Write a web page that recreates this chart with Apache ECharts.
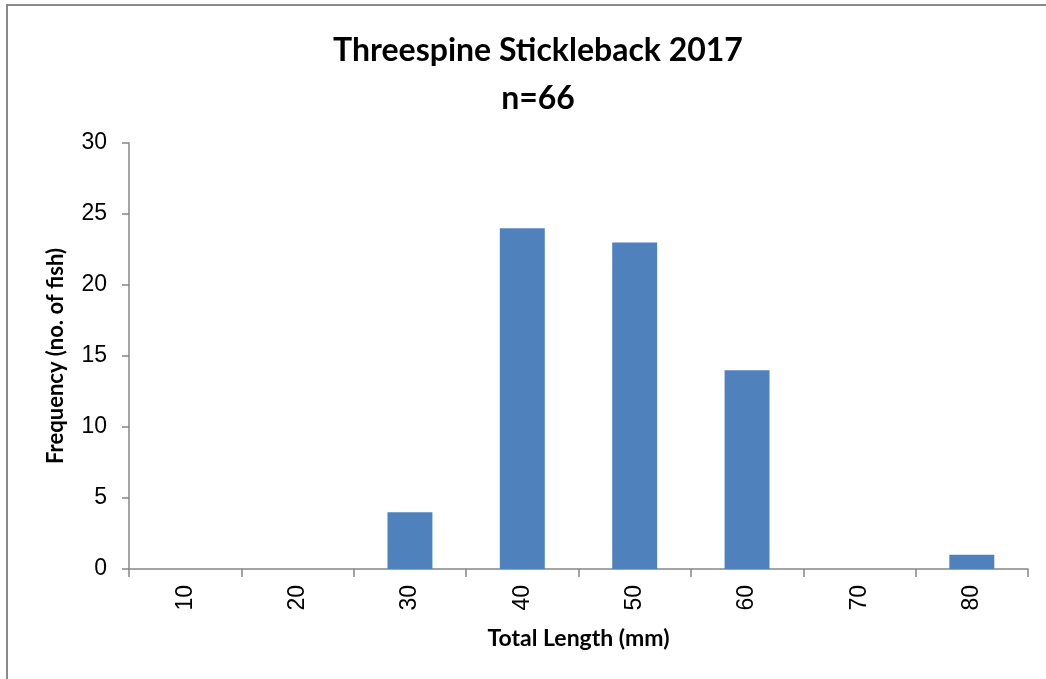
<!DOCTYPE html>
<html>
<head>
<meta charset="utf-8">
<script src="https://cdn.jsdelivr.net/npm/echarts@6/dist/echarts.min.js"></script>
<style>
  html, body { margin: 0; padding: 0; background: #fff; }
  #chart { width: 1046px; height: 679px; }
</style>
</head>
<body>
<div id="chart"></div>
<script>
// Length classes (mm) and fish counts per class
const lengthClasses = ['10', '20', '30', '40', '50', '60', '70', '80'];
const fishCounts = [0, 0, 4, 24, 23, 14, 0, 1];
const yTicks = { min: 0, max: 30, interval: 5 };

const chart = echarts.init(document.getElementById('chart'), null, { renderer: 'canvas' });
const axisGray = '#868686';
const boldFont = 'Lato, "Open Sans", sans-serif';
const tickFont = '"Liberation Sans", Arial, sans-serif';

chart.setOption({
  animation: false,
  backgroundColor: '#fff',
  title: {
    text: 'Threespine Stickleback 2017\nn=66',
    left: 533,
    textAlign: 'center',
    top: 22,
    textStyle: {
      fontFamily: boldFont,
      fontWeight: 'bold',
      fontSize: 32,
      lineHeight: 48,
      color: '#000'
    }
  },
  graphic: [{
    type: 'rect',
    shape: { x: 7, y: 5, width: 1060, height: 700 },
    style: { fill: 'none', stroke: '#8a8a8a', lineWidth: 2 },
    silent: true
  }],
  grid: { left: 129, right: 18, top: 143, bottom: 110 },
  xAxis: {
    type: 'category',
    data: lengthClasses,
    name: 'Total Length (mm)',
    nameLocation: 'middle',
    nameGap: 58,
    nameTextStyle: { fontFamily: boldFont, fontWeight: 'bold', fontSize: 23, color: '#000' },
    axisLine: { lineStyle: { color: axisGray, width: 1.5 } },
    axisTick: { show: true, alignWithLabel: false, length: 8, lineStyle: { color: axisGray, width: 1.5 } },
    axisLabel: { rotate: 90, fontFamily: tickFont, fontSize: 23, color: '#000', margin: 16 }
  },
  yAxis: {
    type: 'value',
    min: yTicks.min,
    max: yTicks.max,
    interval: yTicks.interval,
    name: 'Frequency (no. of fish)',
    nameLocation: 'middle',
    nameGap: 62,
    nameTextStyle: { fontFamily: boldFont, fontWeight: 'bold', fontSize: 22, color: '#000' },
    axisLine: { show: true, lineStyle: { color: axisGray, width: 1.5 } },
    axisTick: { show: true, length: 7, lineStyle: { color: axisGray, width: 1.5 } },
    axisLabel: { fontFamily: tickFont, fontSize: 23, color: '#000', margin: 22 },
    splitLine: { show: false }
  },
  series: [{
    type: 'bar',
    data: fishCounts,
    barCategoryGap: '60%',
    itemStyle: { color: '#4F81BD' }
  }]
});
</script>
</body>
</html>
